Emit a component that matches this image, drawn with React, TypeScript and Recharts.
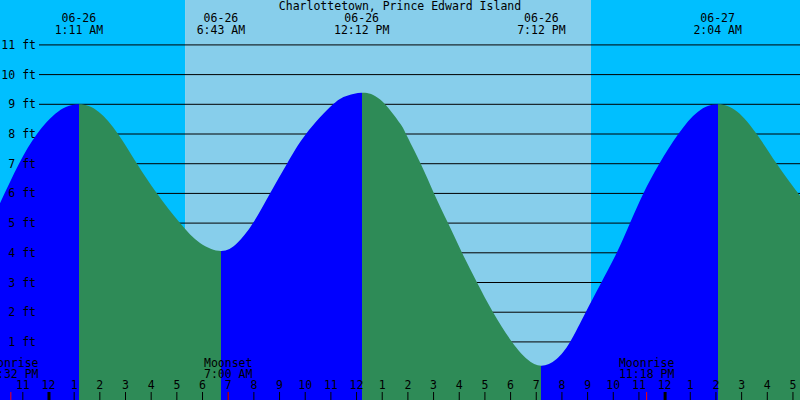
import { ComposedChart, Area, XAxis, YAxis, ReferenceArea, ReferenceLine } from 'recharts'

const FONT = '"DejaVu Sans Mono", "Liberation Mono", monospace'
const FS = 11.5

// hours after midnight of 06-26 (negative = evening of 06-25), heights in ft
const tideHours = [
    -1.889, -1.149, -0.448, 0.37, 1.183,
    1.95, 2.707, 3.448, 4.227, 5.123, 5.903, 6.717,
    7.343, 7.966, 8.628, 9.291, 10.031, 11.083, 11.666, 12.2,
    12.92, 13.69, 13.926, 14.5, 15.018, 15.563, 16.108, 16.693, 17.316, 18.056, 18.65, 19.2,
    19.78, 20.316, 20.927, 21.484, 22.135, 22.653, 23.171, 23.794, 24.534, 25.3, 26.067,
    26.82, 27.589, 28.368, 29.274
]
const tideFeet = [
    5.67, 7.0, 8.0, 8.75, 9.0,
    8.75, 8.0, 7.0, 6.0, 5.0, 4.33, 4.06,
    4.32, 5.0, 6.0, 7.0, 8.0, 9.0, 9.3, 9.39,
    9.16, 8.36, 8.0, 7.0, 6.0, 5.0, 4.0, 3.0, 2.0, 1.0, 0.42, 0.2,
    0.42, 1.0, 2.0, 2.92, 4.0, 5.0, 6.0, 7.0, 8.0, 8.75, 9.0,
    8.76, 8.0, 7.0, 5.92
]

const extremeHours = [1.183, 6.717, 12.2, 19.2, 26.067]
const extremeKinds = ['H', 'L', 'H', 'L', 'H']
const extremeDates = ['06-26', '06-26', '06-26', '06-26', '06-27']
const extremeTimes = ['1:11 AM', '6:43 AM', '12:12 PM', '7:12 PM', '2:04 AM']

const moonHours = [-1.467, 7.0, 23.3]
const moonEvents = ['Moonrise', 'Moonset', 'Moonrise']
const moonTimes = ['10:32 PM', '7:00 AM', '11:18 PM']

const sunriseHour = 5.32
const sunsetHour = 21.13
const midnightHours = [0, 24]

const hourTicks = [-1, 0, 1, 2, 3, 4, 5, 6, 7, 8, 9, 10, 11, 12, 13, 14, 15, 16, 17, 18, 19, 20, 21, 22, 23, 24, 25, 26, 27, 28, 29]
const footTicks = [1, 2, 3, 4, 5, 6, 7, 8, 9, 10, 11]

const xDomain: [number, number] = [-1.889, 29.274]
const yDomain: [number, number] = [-0.956, 12.512]

const RISING = '#0000ff'
const FALLING = '#2e8b57'

const tideData = tideHours.map((h, i) => ({ h, ft: tideFeet[i] }))

// hard colour stops: blue while the tide rises, green while it falls
const bounds = [xDomain[0], ...extremeHours, xDomain[1]]
const fillStops = bounds.slice(0, -1).flatMap((b, i) => {
    const nextKind = i < extremeKinds.length ? extremeKinds[i] : (extremeKinds[extremeKinds.length - 1] === 'H' ? 'L' : 'H')
    const color = nextKind === 'H' ? RISING : FALLING
    const span = xDomain[1] - xDomain[0]
    return [
        { offset: (b - xDomain[0]) / span, color },
        { offset: (bounds[i + 1] - xDomain[0]) / span, color },
    ]
})

const hourLabel = (h: number) => {
    const v = ((h % 12) + 12) % 12
    return String(v === 0 ? 12 : v)
}

const textStyle = { fontFamily: FONT, fontSize: FS, fill: '#000' }

const FootTick = (props: any) => (
    <text x={36} y={props.y} dy={4} textAnchor="end" {...textStyle}>
        {props.payload.value} ft
    </text>
)

const App = () => {
    return (
        <div style={{ position: 'absolute', left: 0, top: 0, width: 800, height: 400 }}>
            <ComposedChart width={800} height={400} data={tideData} margin={{ top: 0, right: 0, bottom: 0, left: 0 }}>
                <defs>
                    <linearGradient id="tideFill" x1="0" y1="0" x2="1" y2="0">
                        {fillStops.map((s, i) => (
                            <stop key={i} offset={s.offset} stopColor={s.color} />
                        ))}
                    </linearGradient>
                </defs>
                <XAxis dataKey="h" type="number" domain={xDomain} allowDataOverflow ticks={hourTicks}
                    tickFormatter={hourLabel} mirror axisLine={false} tickSize={8} tickMargin={3}
                    tickLine={{ stroke: '#000' }} tick={textStyle} interval={0} zIndex={500} />
                <YAxis type="number" domain={yDomain} allowDataOverflow ticks={footTicks} mirror
                    axisLine={false} tickLine={false} tick={<FootTick />} interval={0} zIndex={500} />

                <ReferenceArea x1={xDomain[0]} x2={sunriseHour} fill="#00bfff" fillOpacity={1} stroke="none" zIndex={-300} />
                <ReferenceArea x1={sunriseHour} x2={sunsetHour} fill="#87ceeb" fillOpacity={1} stroke="none" zIndex={-300} />
                <ReferenceArea x1={sunsetHour} x2={xDomain[1]} fill="#00bfff" fillOpacity={1} stroke="none" zIndex={-300} />

                {footTicks.map((f) => (
                    <ReferenceLine key={'g' + f} y={f} zIndex={-200}
                        shape={(p: any) => (
                            <line x1={Math.min(p.x1, p.x2) + 39} x2={Math.max(p.x1, p.x2)} y1={p.y1} y2={p.y2}
                                stroke="#000" strokeWidth={1} />
                        )} />
                ))}

                <Area type="natural" dataKey="ft" fill="url(#tideFill)" fillOpacity={1} stroke="none"
                    baseValue="dataMin" dot={false} activeDot={false} isAnimationActive={false} />

                {midnightHours.map((m) => (
                    <ReferenceLine key={'m' + m} x={m} zIndex={600}
                        shape={(p: any) => {
                            const bottom = Math.max(p.y1, p.y2)
                            return <rect x={p.x1 - 1} y={bottom - 8} width={3} height={8} fill="#000" />
                        }} />
                ))}

                {moonHours.map((t, i) => (
                    <ReferenceLine key={'moon' + i} x={t} zIndex={600}
                        shape={(p: any) => {
                            const bottom = Math.max(p.y1, p.y2)
                            return (
                                <g>
                                    <line x1={p.x1} x2={p.x1} y1={bottom - 8} y2={bottom} stroke="#ff0000" strokeWidth={1} />
                                    <text x={p.x1} y={bottom - 33.5} textAnchor="middle" {...textStyle}>{moonEvents[i]}</text>
                                    <text x={p.x1} y={bottom - 22.5} textAnchor="middle" {...textStyle}>{moonTimes[i]}</text>
                                </g>
                            )
                        }} />
                ))}

                {extremeHours.map((t, i) => (
                    <ReferenceLine key={'x' + i} x={t} zIndex={600}
                        shape={(p: any) => {
                            const top = Math.min(p.y1, p.y2)
                            return (
                                <g>
                                    <text x={p.x1} y={top + 21.5} textAnchor="middle" {...textStyle}>{extremeDates[i]}</text>
                                    <text x={p.x1} y={top + 34} textAnchor="middle" {...textStyle}>{extremeTimes[i]}</text>
                                </g>
                            )
                        }} />
                ))}
            </ComposedChart>
            <div style={{
                position: 'absolute', left: 0, top: 0, width: 800, textAlign: 'center',
                fontFamily: FONT, fontSize: FS, lineHeight: '12px', color: '#000'
            }}>
                Charlottetown, Prince Edward Island
            </div>
        </div>
    )
}

export default App
